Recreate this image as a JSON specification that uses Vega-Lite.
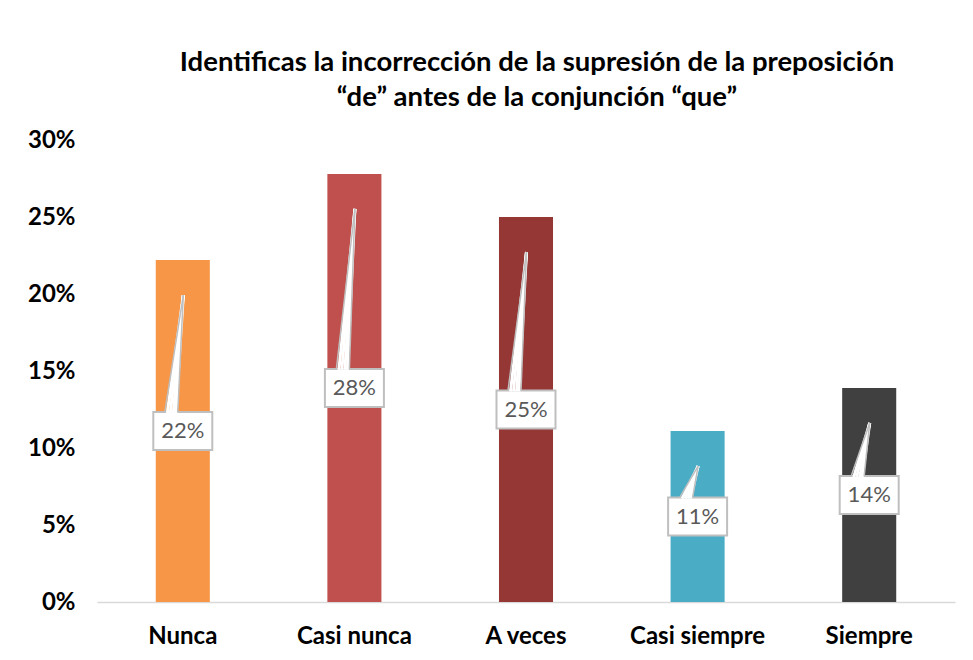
{
  "$schema": "https://vega.github.io/schema/vega-lite/v6.json",
  "width": 858,
  "height": 462,
  "autosize": {"type": "none"},
  "padding": {"left": 97, "top": 140, "right": 18, "bottom": 58},
  "background": "white",
  "config": {
    "view": {"stroke": null},
    "font": "Lato",
    "axis": {"labelFont": "Lato", "labelFontWeight": "bold", "labelColor": "black", "labelFontSize": 24}
  },
  "title": {
    "text": ["Identificas la incorrección de la supresión de la preposición", "“de” antes de la conjunción “que”"],
    "anchor": "middle",
    "dx": 11,
    "offset": 17,
    "fontSize": 27.5,
    "fontWeight": "bold",
    "font": "Lato",
    "color": "black",
    "lineHeight": 35
  },
  "data": {
    "values": [
      {"cat": "Nunca", "value": 0.222},
      {"cat": "Casi nunca", "value": 0.278},
      {"cat": "A veces", "value": 0.25},
      {"cat": "Casi siempre", "value": 0.111},
      {"cat": "Siempre", "value": 0.139}
    ]
  },
  "transform": [{"calculate": "datum.value / 2", "as": "mid"}],
  "encoding": {
    "x": {
      "field": "cat",
      "type": "nominal",
      "sort": null,
      "scale": {"paddingInner": 0.685, "paddingOuter": 0.3425},
      "axis": {"title": null, "labelAngle": 0, "ticks": false, "domainColor": "#d9d9d9", "domainWidth": 1.5, "labelPadding": 22}
    }
  },
  "layer": [
    {
      "mark": {"type": "bar"},
      "encoding": {
        "y": {
          "field": "value",
          "type": "quantitative",
          "scale": {"domain": [0, 0.3], "nice": false},
          "axis": {"title": null, "format": ".0%", "values": [0, 0.05, 0.1, 0.15, 0.2, 0.25, 0.3], "grid": false, "ticks": false, "domain": false, "labelPadding": 22}
        },
        "color": {
          "field": "cat",
          "type": "nominal",
          "scale": {"domain": ["Nunca", "Casi nunca", "A veces", "Casi siempre", "Siempre"], "range": ["#F79646", "#C0504D", "#953735", "#4BACC6", "#404040"]},
          "legend": null
        }
      }
    },
    {
      "mark": {"type": "bar", "width": 59, "fill": "white", "stroke": "#bfbfbf", "strokeWidth": 2, "yOffset": -19, "y2Offset": 19},
      "encoding": {
        "y": {"field": "mid", "type": "quantitative"},
        "y2": {"field": "mid"}
      }
    },
    {
      "mark": {"type": "rule", "stroke": "white", "strokeWidth": 3, "xOffset": -15.5, "x2Offset": 0.5, "yOffset": -18, "y2Offset": 35},
      "encoding": {"x2": {"field": "cat"}, "y": {"field": "mid", "type": "quantitative"}, "y2": {"field": "value"}}
    },
    {
      "mark": {"type": "rule", "stroke": "white", "strokeWidth": 3, "xOffset": -12.5, "x2Offset": 0.5, "yOffset": -18, "y2Offset": 35},
      "encoding": {"x2": {"field": "cat"}, "y": {"field": "mid", "type": "quantitative"}, "y2": {"field": "value"}}
    },
    {
      "mark": {"type": "rule", "stroke": "white", "strokeWidth": 3, "xOffset": -9.5, "x2Offset": 0.5, "yOffset": -18, "y2Offset": 35},
      "encoding": {"x2": {"field": "cat"}, "y": {"field": "mid", "type": "quantitative"}, "y2": {"field": "value"}}
    },
    {
      "mark": {"type": "rule", "stroke": "white", "strokeWidth": 3, "xOffset": -7, "x2Offset": 0.5, "yOffset": -18, "y2Offset": 35},
      "encoding": {"x2": {"field": "cat"}, "y": {"field": "mid", "type": "quantitative"}, "y2": {"field": "value"}}
    },
    {
      "mark": {"type": "rule", "stroke": "#bfbfbf", "strokeWidth": 1.5, "xOffset": -18, "x2Offset": 0.5, "yOffset": -19, "y2Offset": 35},
      "encoding": {"x2": {"field": "cat"}, "y": {"field": "mid", "type": "quantitative"}, "y2": {"field": "value"}}
    },
    {
      "mark": {"type": "rule", "stroke": "#bfbfbf", "strokeWidth": 1.5, "xOffset": -5, "x2Offset": 0.5, "yOffset": -19, "y2Offset": 35},
      "encoding": {"x2": {"field": "cat"}, "y": {"field": "mid", "type": "quantitative"}, "y2": {"field": "value"}}
    },
    {
      "mark": {"type": "text", "fontSize": 22, "color": "#595959", "font": "Lato"},
      "encoding": {
        "y": {"field": "mid", "type": "quantitative"},
        "text": {"field": "value", "type": "quantitative", "format": ".0%"}
      }
    }
  ]
}
